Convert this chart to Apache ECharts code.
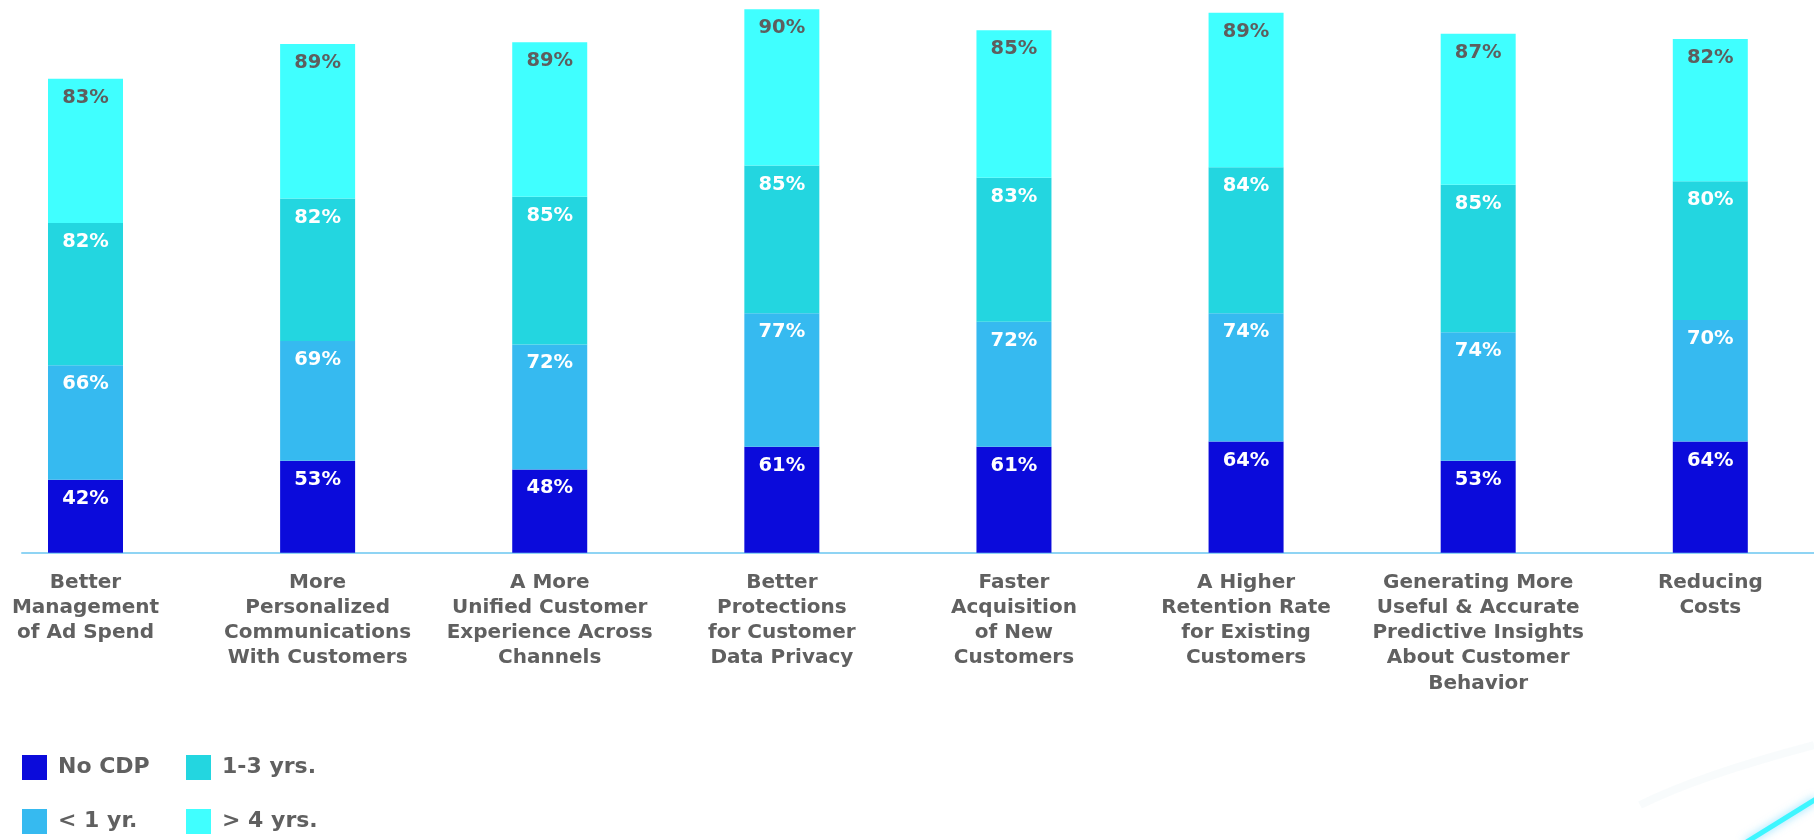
<!DOCTYPE html>
<html>
<head>
<meta charset="utf-8">
<script src="https://cdn.jsdelivr.net/npm/echarts@6/dist/echarts.min.js"></script>
<style>
html,body{margin:0;padding:0;background:#fff;}
#chart{width:1814px;height:840px;}
</style>
</head>
<body>
<div id="chart"></div>
<script>
const categories = [
  "Better\nManagement\nof Ad Spend",
  "More\nPersonalized\nCommunications\nWith Customers",
  "A More\nUnified Customer\nExperience Across\nChannels",
  "Better\nProtections\nfor Customer\nData Privacy",
  "Faster\nAcquisition\nof New\nCustomers",
  "A Higher\nRetention Rate\nfor Existing\nCustomers",
  "Generating More\nUseful & Accurate\nPredictive Insights\nAbout Customer\nBehavior",
  "Reducing\nCosts"
];
const seriesNames = ["No CDP", "< 1 yr.", "1-3 yrs.", "> 4 yrs."];
const noCdp   = [42, 53, 48, 61, 61, 64, 53, 64];
const lessOne = [66, 69, 72, 77, 72, 74, 74, 70];
const oneThree= [82, 82, 85, 85, 83, 84, 85, 80];
const fourPlus= [83, 89, 89, 90, 85, 89, 87, 82];

const colors = ["#0b0bdb", "#36baf0", "#23d6e0", "#40ffff"];
const labelColors = ["#ffffff", "#ffffff", "#ffffff", "#5e5e5e"];
const FONT = "'DejaVu Sans', sans-serif";
const values = [noCdp, lessOne, oneThree, fourPlus];

const chart = echarts.init(document.getElementById('chart'), null, {renderer: 'canvas'});

const series = values.map((v, i) => ({
  name: seriesNames[i],
  type: 'bar',
  stack: 'total',
  data: v,
  barWidth: 75,
  xAxisIndex: 0,
  yAxisIndex: 0,
  itemStyle: { color: colors[i] },
  label: {
    show: true,
    position: 'insideTop',
    distance: 9,
    formatter: '{c}%',
    color: labelColors[i],
    fontFamily: FONT,
    fontWeight: 'bold',
    fontSize: 19.5
  }
}));

function legendAt(name, left, top) {
  return {
    data: [name],
    left: left,
    top: top,
    padding: 0,
    itemWidth: 25,
    itemHeight: 25,
    icon: 'rect',
    selectedMode: false,
    textStyle: { color: '#606060', fontFamily: FONT, fontWeight: 'bold', fontSize: 22, padding: [0, 0, 0, 6] }
  };
}

chart.setOption({
  backgroundColor: '#ffffff',
  animation: false,
  legend: [
    legendAt("No CDP", 22, 755),
    legendAt("1-3 yrs.", 186, 755),
    legendAt("< 1 yr.", 22, 809),
    legendAt("> 4 yrs.", 186, 809)
  ],
  grid: [
    { left: 85.5, right: 103.7, top: 0, bottom: 287.3, containLabel: false },
    { left: 22, right: 0, top: 0, bottom: 287.3, containLabel: false }
  ],
  xAxis: [
    {
      type: 'category',
      gridIndex: 0,
      data: categories,
      boundaryGap: false,
      axisLine: { show: false },
      axisTick: { show: false },
      splitLine: { show: false },
      axisLabel: {
        interval: 0,
        margin: 17,
        color: '#606060',
        fontFamily: FONT,
        fontWeight: 'bold',
        fontSize: 20,
        lineHeight: 25.3,
        align: 'center',
        verticalAlign: 'top'
      }
    },
    {
      type: 'value',
      gridIndex: 1,
      min: 0, max: 1,
      axisLine: { show: true, onZero: false, lineStyle: { color: '#8fd4f4', width: 2 } },
      axisTick: { show: false },
      axisLabel: { show: false },
      splitLine: { show: false }
    }
  ],
  yAxis: [
    { type: 'value', gridIndex: 0, min: 0, max: 318.4, show: false },
    { type: 'value', gridIndex: 1, min: 0, max: 1, show: false }
  ],
  series: series,
  graphic: [
    {
      type: 'line',
      silent: true,
      z: 100,
      shape: { x1: 1745, y1: 843, x2: 1816, y2: 799 },
      style: { stroke: '#3ef6ff', lineWidth: 5, shadowBlur: 8, shadowColor: 'rgba(60,200,255,0.6)' }
    },
    {
      type: 'bezierCurve',
      silent: true,
      z: 1,
      shape: { x1: 1640, y1: 805, cpx1: 1700, cpy1: 775, x2: 1814, y2: 745 },
      style: { stroke: 'rgba(215,232,240,0.18)', lineWidth: 8, fill: null }
    }
  ]
});
</script>
</body>
</html>
